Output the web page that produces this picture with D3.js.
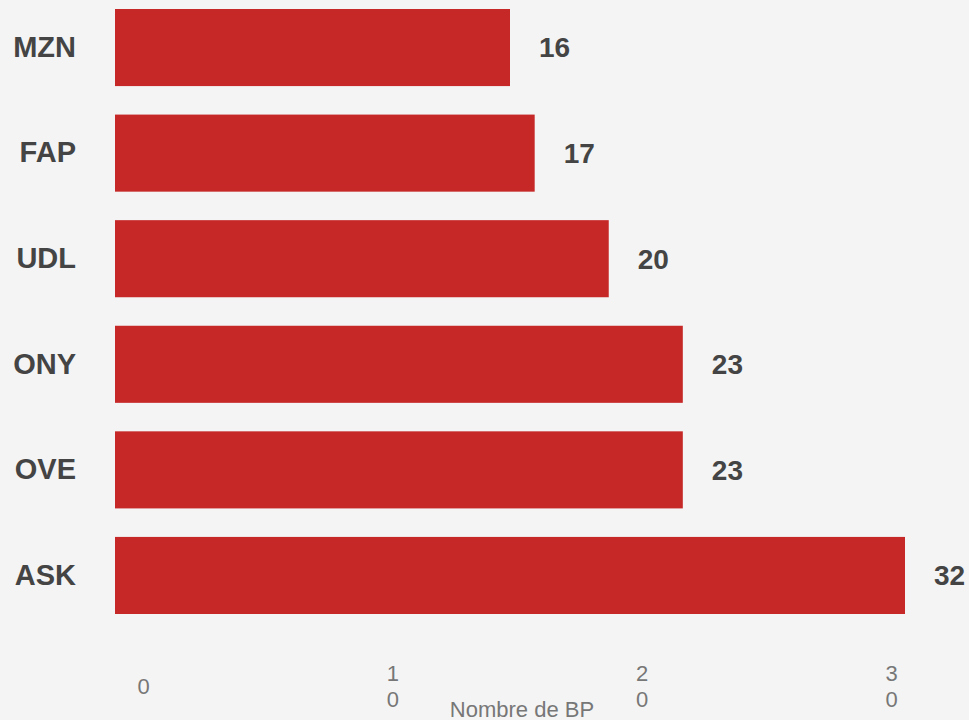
<!DOCTYPE html>
<html>
<head>
<meta charset="utf-8">
<script src="https://cdn.jsdelivr.net/npm/d3@7"></script>
<style>
  body { margin: 0; background: #f4f4f4; }
  svg { display: block; font-family: "Liberation Sans", Arial, sans-serif; }
</style>
</head>
<body>
<div id="chart"></div>
<script>
// data
const categories = ["MZN", "FAP", "UDL", "ONY", "OVE", "ASK"];
const values = [16, 17, 20, 23, 23, 32];
const xTicks = [0, 10, 20, 30];
const xTitle = "Nombre de BP";

const width = 969, height = 720;

const svg = d3.select("#chart")
  .append("svg")
    .attr("width", width)
    .attr("height", height);

svg.append("rect")
  .attr("width", width)
  .attr("height", height)
  .attr("fill", "#f4f4f4");

// scales
const x = d3.scaleLinear()
  .domain([0, 32])
  .range([115, 905]);

// tick labels sit a bit to the right of the bar scale
const xLabel = d3.scaleLinear()
  .domain([0, 30])
  .range([143, 891]);

const y = d3.scaleBand()
  .domain(categories)
  .range([9, 614])
  .paddingInner(0.27)
  .paddingOuter(0);

// bars
svg.selectAll(".bar")
  .data(categories)
  .enter()
  .append("rect")
    .attr("class", "bar")
    .attr("x", x(0))
    .attr("y", d => y(d))
    .attr("width", (d, i) => x(values[i]) - x(0))
    .attr("height", y.bandwidth())
    .attr("fill", "#c62828");

// value labels
svg.selectAll(".val")
  .data(categories)
  .enter()
  .append("text")
    .attr("class", "val")
    .attr("x", (d, i) => x(values[i]) + 29)
    .attr("y", d => y(d) + y.bandwidth() / 2)
    .attr("dy", "0.35em")
    .attr("font-size", 28)
    .attr("font-weight", "bold")
    .attr("fill", "#444")
    .text((d, i) => values[i]);

// category axis
const yAxis = svg.append("g")
  .attr("transform", "translate(76,0)")
  .call(d3.axisLeft(y).tickSize(0).tickPadding(0));
yAxis.select(".domain").remove();
yAxis.selectAll("text")
  .attr("font-size", 29)
  .attr("font-weight", "bold")
  .attr("font-family", "Liberation Sans, Arial, sans-serif")
  .attr("fill", "#444");

// x axis, labels wrapped one digit per line
const xAxis = svg.append("g")
  .call(d3.axisBottom(xLabel).tickValues(xTicks).tickSize(0));
xAxis.select(".domain").remove();
xAxis.selectAll("text").each(function(d) {
  const t = d3.select(this);
  const chars = String(d).split("");
  const lh = 26;
  t.text(null)
    .attr("y", 0)
    .attr("font-size", 22)
    .attr("font-family", "Liberation Sans, Arial, sans-serif")
    .attr("fill", "#777");
  chars.forEach((c, i) => {
    t.append("tspan")
      .attr("x", 0)
      .attr("y", 686 + (i - (chars.length - 1) / 2) * lh)
      .attr("dy", "0.35em")
      .text(c);
  });
});

// x title
svg.append("text")
  .attr("x", 522)
  .attr("y", 717)
  .attr("text-anchor", "middle")
  .attr("font-size", 22)
  .attr("fill", "#777")
  .text(xTitle);
</script>
</body>
</html>
